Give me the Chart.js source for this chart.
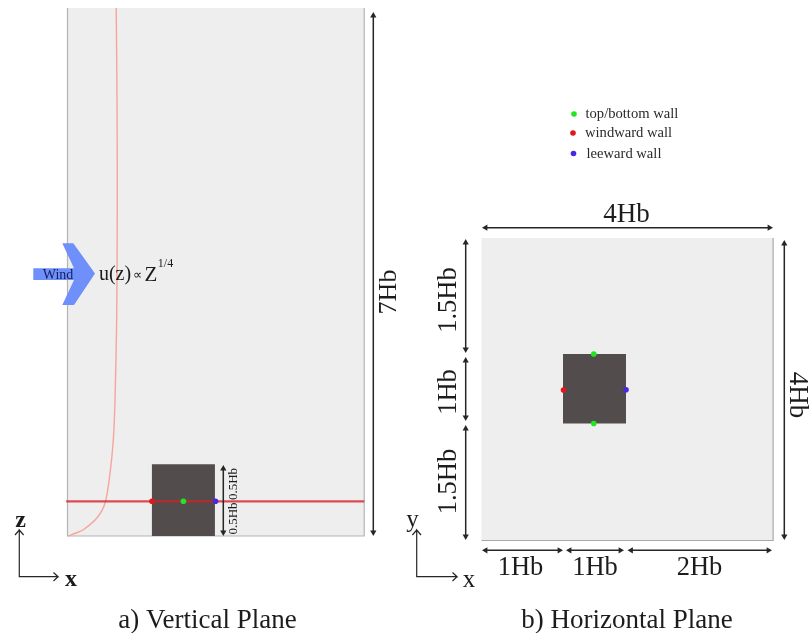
<!DOCTYPE html>
<html>
<head>
<meta charset="utf-8">
<title>Vertical and horizontal plane</title>
<script src="https://cdn.jsdelivr.net/npm/chart.js@4"></script>
<style>
  html, body { margin: 0; padding: 0; background: #fff; }
  canvas { display: block; filter: blur(0.55px); }
</style>
</head>
<body>
<canvas id="planos" width="809" height="633"></canvas>
<script>
// plano vertical, em unidades de Hb
const dominioAX = [0, 4.71];
const dominioAZ = [0, 7];
const predioAX = [1.34, 2.34];
const predioAZ = [0, 0.95];
const linhaMedidaZ = 0.46;
const perfilX = [0.01, 0.135, 0.246, 0.463, 0.595, 0.675, 0.727, 0.754, 0.781, 0.79, 0.786, 0.773];
const perfilZ = [0, 0.04, 0.08, 0.235, 0.434, 0.831, 1.273, 1.8, 2.9, 4.45, 5.78, 7];
const sondasAX = [1.34, 1.84, 2.35];

// plano horizontal
const dominioBX = [0, 4];
const dominioBY = [0, 4];
const predioBX = [1.118, 1.982];
const predioBY = [1.548, 2.467];
const sondaTopoX = [1.54, 1.54];
const sondaTopoY = [2.467, 1.548];
const sondaBarlaX = [1.125];
const sondaBarlaY = [1.99];
const sondaSotaX = [1.982];
const sondaSotaY = [1.995];

// coordenadas da figura: seta do vento, setas de cota, eixos, legenda
const setaVentoX = [33.3, 74, 62.3, 73.3, 95, 74, 62.3, 74, 33.3];
const setaVentoY = [268.3, 268.3, 243.3, 243.3, 273.5, 305, 305, 280, 280];
const setasCota = [
  [373.3, 12, 373.3, 536],
  [223.3, 465, 223.3, 536],
  [482, 227.7, 773, 227.7],
  [784.3, 240, 784.3, 540],
  [465.7, 239, 465.7, 353],
  [465.7, 357, 465.7, 421],
  [465.7, 425, 465.7, 540],
  [482, 550.3, 563, 550.3],
  [566, 550.3, 624, 550.3],
  [627.5, 550.3, 772, 550.3]
];
const eixoAX = [15, 19.3, 23.6, 19.3, 19.3, 58, 53.5, 58, 53.5];
const eixoAY = [535, 530, 535, 530, 576.7, 576.7, 572.5, 576.7, 581];
const eixoBX = [412.4, 416.7, 421, 416.7, 416.7, 457, 452.5, 457, 452.5];
const eixoBY = [535, 530, 535, 530, 576.7, 576.7, 572.5, 576.7, 581];
const legendaPontoX = [574, 573, 573.5];
const legendaPontoY = [114, 133, 153.5];
const legendaTextos = ['top/bottom wall', 'windward wall', 'leeward wall'];
const legendaTextoX = [585.5, 585, 586.5];

const textos = [
  ['a) Vertical Plane', 207.5, 620.5, 27, 0],
  ['b) Horizontal Plane', 627, 620.5, 27, 0],
  ['z', 20.5, 520.5, 24, 0, 'bold '],
  ['x', 71, 580, 24, 0, 'bold '],
  ['y', 412.5, 520, 25, 0],
  ['x', 469, 580, 25, 0],
  ['7Hb', 389, 292, 26, -90],
  ['4Hb', 626.5, 214.5, 27, 0],
  ['4Hb', 797.5, 395, 27, 90],
  ['1.5Hb', 449, 300, 26.5, -90],
  ['1Hb', 449, 392, 26.5, -90],
  ['1.5Hb', 449, 481.5, 26.5, -90],
  ['1Hb', 520.5, 568, 26.5, 0],
  ['1Hb', 595, 568, 26.5, 0],
  ['2Hb', 699.5, 568, 26.5, 0],
  ['0.5Hb', 234, 484, 13, -90],
  ['0.5Hb', 234, 518.5, 13, -90],
  ['u(z)', 115, 274.5, 20, 0],
  ['\u221D', 137.5, 276, 13, 0],
  ['Z', 151, 275.5, 21, 0],
  ['1/4', 165.5, 264, 12, 0]
];

const cinzaFundo = '#eeeeee';
const cinzaBorda = '#b4b4b4';
const corPredio = '#524d4c';
const verde = '#22e622';
const vermelho = '#e01818';
const azul = '#4a28e0';
const corSeta = '#262626';

// pixel = origem + valor * pxPorHb
function escalaX(origem, pxPorHb) {
  return { type: 'linear', axis: 'x', display: false, min: -origem / pxPorHb, max: (809 - origem) / pxPorHb };
}
function escalaY(origem, pxPorHb) {
  return { type: 'linear', axis: 'y', display: false, min: -(633 - origem) / pxPorHb, max: origem / pxPorHb };
}

function pontos(xs, ys) {
  return xs.map((x, i) => ({ x: x, y: ys[i] }));
}
function retangulo(xs, ys) {
  return pontos([xs[0], xs[1], xs[1], xs[0], xs[0]], [ys[0], ys[0], ys[1], ys[1], ys[0]]);
}
function forma(data, cor, xAxisID, yAxisID) {
  return { data, xAxisID, yAxisID, showLine: true, fill: 'shape', backgroundColor: cor, borderWidth: 0 };
}
function linha(data, cor, largura, xAxisID, yAxisID, tension) {
  return { data, xAxisID, yAxisID, showLine: true, fill: false, borderColor: cor, borderWidth: largura, tension: tension || 0 };
}
function marcas(xs, ys, cor, xAxisID, yAxisID) {
  return { data: pontos(xs, ys), xAxisID, yAxisID, showLine: false, pointRadius: 2.8, pointBackgroundColor: cor, pointBorderWidth: 0 };
}
// seta de duas pontas, a ponta fica recuada para terminar na cota
function setaDupla(s) {
  const [x0, y0, x1, y1] = s;
  const r = 3.6;
  const horiz = y0 === y1;
  const a = horiz ? { x: x0 + r, y: y0 } : { x: x0, y: y0 + r };
  const b = horiz ? { x: x1 - r, y: y1 } : { x: x1, y: y1 - r };
  return {
    data: [a, b], xAxisID: 'x', yAxisID: 'y', showLine: true, fill: false,
    borderColor: corSeta, borderWidth: 1.5,
    pointStyle: 'triangle', pointRadius: r, pointBackgroundColor: corSeta, pointBorderWidth: 0,
    pointRotation: horiz ? [-90, 90] : [0, 180]
  };
}

const conjuntos = [
  forma(retangulo(dominioAX, dominioAZ), cinzaFundo, 'xA', 'zA'),
  linha(pontos([dominioAX[0], dominioAX[0], dominioAX[1], dominioAX[1]], [dominioAZ[1], 0, 0, dominioAZ[1]]), cinzaBorda, 1.2, 'xA', 'zA'),
  forma(retangulo(dominioBX, dominioBY), cinzaFundo, 'xB', 'yB'),
  linha(pontos([dominioBX[0], dominioBX[1], dominioBX[1]], [0, 0, dominioBY[1]]), '#a8a8a8', 1.2, 'xB', 'yB'),
  linha(pontos(perfilX, perfilZ), '#f7a59c', 1.4, 'xA', 'zA', 0.3),
  forma(retangulo(predioAX, predioAZ), corPredio, 'xA', 'zA'),
  linha(pontos([-0.02, dominioAX[1]], [linhaMedidaZ, linhaMedidaZ]), 'rgba(215,30,40,0.78)', 2.2, 'xA', 'zA'),
  marcas([sondasAX[0]], [linhaMedidaZ], vermelho, 'xA', 'zA'),
  marcas([sondasAX[1]], [linhaMedidaZ], verde, 'xA', 'zA'),
  marcas([sondasAX[2]], [linhaMedidaZ], azul, 'xA', 'zA'),
  forma(retangulo(predioBX, predioBY), corPredio, 'xB', 'yB'),
  marcas(sondaTopoX, sondaTopoY, verde, 'xB', 'yB'),
  marcas(sondaBarlaX, sondaBarlaY, vermelho, 'xB', 'yB'),
  marcas(sondaSotaX, sondaSotaY, azul, 'xB', 'yB'),
  forma(pontos(setaVentoX.concat(setaVentoX[0]), setaVentoY.concat(setaVentoY[0])), '#6f8ffb', 'x', 'y'),
  linha(pontos(eixoAX, eixoAY), corSeta, 1.2, 'x', 'y'),
  linha(pontos(eixoBX, eixoBY), corSeta, 1.2, 'x', 'y'),
  marcas([legendaPontoX[0]], [legendaPontoY[0]], verde, 'x', 'y'),
  marcas([legendaPontoX[1]], [legendaPontoY[1]], vermelho, 'x', 'y'),
  marcas([legendaPontoX[2]], [legendaPontoY[2]], azul, 'x', 'y')
].concat(setasCota.map(setaDupla));

// o chart.js desenha o menor "order" por cima
conjuntos.forEach((c, i) => { c.order = -i; });

const rotulos = {
  id: 'rotulos',
  afterDatasetsDraw(chart) {
    const { ctx, scales } = chart;
    const escreve = (texto, x, y, tam, rot, cor, alinhamento, peso) => {
      ctx.save();
      ctx.translate(scales.x.getPixelForValue(x), scales.y.getPixelForValue(y));
      ctx.rotate(rot * Math.PI / 180);
      ctx.font = (peso || '') + tam + 'px "Liberation Serif", serif';
      ctx.fillStyle = cor;
      ctx.textAlign = alinhamento || 'center';
      ctx.textBaseline = 'middle';
      ctx.fillText(texto, 0, 0);
      ctx.restore();
    };
    textos.forEach(t => escreve(t[0], t[1], t[2], t[3], t[4], '#1c1c1c', 'center', t[5]));
    escreve('Wind', 58, 275, 14, 0, '#141e5a');
    legendaTextos.forEach((t, i) => escreve(t, legendaTextoX[i], legendaPontoY[i] + 0.2, 14.6, 0, '#2a2a2a', 'left'));
  }
};

new Chart(document.getElementById('planos'), {
  type: 'scatter',
  data: { datasets: conjuntos },
  options: {
    responsive: false,
    animation: false,
    events: [],
    layout: { padding: 0, autoPadding: false },
    elements: { point: { radius: 0 } },
    plugins: { legend: { display: false }, title: { display: false }, tooltip: { enabled: false } },
    scales: {
      x: { type: 'linear', display: false, min: 0, max: 809 },
      y: { type: 'linear', display: false, min: 0, max: 633, reverse: true },
      xA: escalaX(67.5, 63),
      zA: escalaY(536, 75.43),
      xB: escalaX(481.5, 72.9),
      yB: escalaY(540.5, 75.6)
    }
  },
  plugins: [rotulos]
});
</script>
</body>
</html>
